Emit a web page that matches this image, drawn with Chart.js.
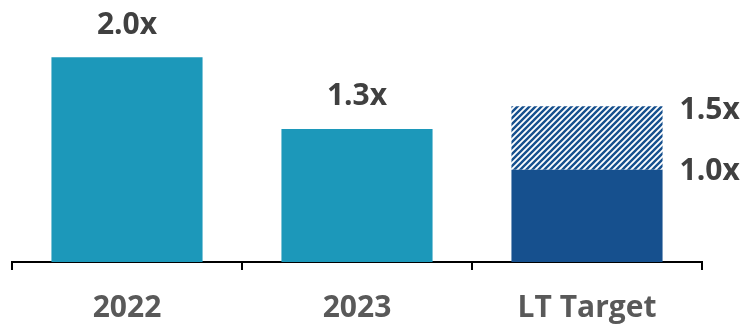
<!DOCTYPE html>
<html>
<head>
<meta charset="utf-8">
<script src="https://cdn.jsdelivr.net/npm/chart.js@4"></script>
<style>
  html, body { margin: 0; padding: 0; background: #fff; }
  #wrap { width: 748px; height: 325px; }
</style>
</head>
<body>
<div id="wrap"><canvas id="myChart" width="748" height="325"></canvas></div>
<script>
const categories = ['2022', '2023', 'LT Target'];
const solidValues = [2.0, 1.3, 0.9];
const hatchValues = [0, 0, 0.62];
const topLabels = ['2.0x', '1.3x', null];
const targetLabels = ['1.5x', '1.0x'];

const teal = '#1c98ba';
const navy = '#16508e';

function makeHatch() {
    const c = document.createElement('canvas');
    c.width = 6;
    c.height = 6;
    const g = c.getContext('2d');
    g.fillStyle = '#fff';
    g.fillRect(0, 0, 6, 6);
    g.strokeStyle = navy;
    g.lineWidth = 2.4;
    g.beginPath();
    g.moveTo(-3, 3); g.lineTo(3, -3);
    g.moveTo(0, 6); g.lineTo(6, 0);
    g.moveTo(3, 9); g.lineTo(9, 3);
    g.stroke();
    return g.createPattern(c, 'repeat');
}

const valueLabels = {
    id: 'valueLabels',
    afterDatasetsDraw(chart) {
        const ctx = chart.ctx;
        const solid = chart.getDatasetMeta(0).data;
        const hatch = chart.getDatasetMeta(1).data;
        ctx.save();
        ctx.font = 'bold 30px "Open Sans"';
        ctx.fillStyle = '#404040';
        ctx.textBaseline = 'middle';
        ctx.textAlign = 'center';
        topLabels.forEach((t, i) => {
            if (t) ctx.fillText(t, solid[i].x, solid[i].y - 32);
        });
        ctx.textAlign = 'left';
        const last = categories.length - 1;
        const h = hatch[last];
        const s = solid[last];
        ctx.fillText(targetLabels[0], h.x + h.width / 2 + 17, h.y + 4);
        ctx.fillText(targetLabels[1], s.x + s.width / 2 + 17, s.y + 2);
        ctx.restore();
    }
};

const ctx = document.getElementById('myChart').getContext('2d');
const myChart = new Chart(ctx, {
    type: 'bar',
    data: {
        labels: categories,
        datasets: [{
            data: solidValues,
            backgroundColor: [teal, teal, navy],
            borderWidth: 0,
            categoryPercentage: 0.657,
            barPercentage: 1.0
        }, {
            data: hatchValues,
            backgroundColor: makeHatch(),
            borderWidth: 0,
            categoryPercentage: 0.657,
            barPercentage: 1.0
        }]
    },
    options: {
        responsive: false,
        animation: false,
        layout: { padding: { top: 6, left: 12, right: 46, bottom: 0 } },
        plugins: { legend: { display: false }, tooltip: { enabled: false } },
        scales: {
            x: {
                stacked: true,
                grid: {
                    offset: true,
                    drawOnChartArea: false,
                    drawTicks: true,
                    tickLength: 8,
                    color: '#000',
                    lineWidth: 2
                },
                border: { display: true, color: '#000', width: 2 },
                ticks: {
                    color: '#595959',
                    font: { family: 'Open Sans', size: 30, weight: 'bold' },
                    padding: 20
                },
                afterFit(scale) { scale.height = 63; }
            },
            y: {
                stacked: true,
                display: false,
                min: 0,
                max: 2.5
            }
        }
    },
    plugins: [valueLabels]
});
</script>
</body>
</html>
